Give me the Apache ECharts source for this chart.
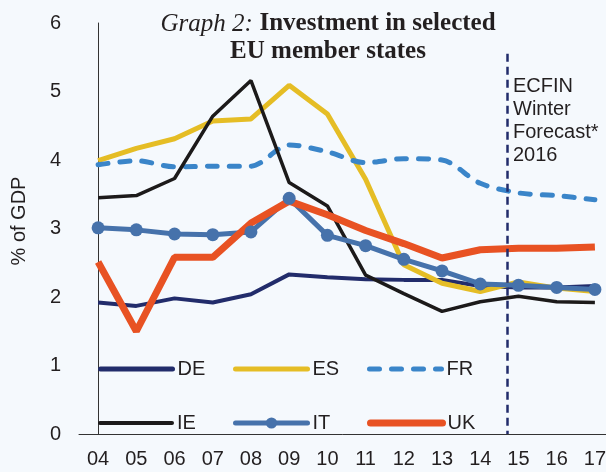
<!DOCTYPE html>
<html>
<head>
<meta charset="utf-8">
<script src="https://cdn.jsdelivr.net/npm/echarts@6/dist/echarts.min.js"></script>
<style>
  html, body { margin: 0; padding: 0; background: #f5f9fd; }
  #chart { width: 606px; height: 472px; }
</style>
</head>
<body>
<div id="chart"></div>
<script>
// years on the x axis
const years = ['04', '05', '06', '07', '08', '09', '10', '11', '12', '13', '14', '15', '16', '17']
// investment, % of GDP
const de = [1.92, 1.87, 1.98, 1.92, 2.04, 2.33, 2.29, 2.26, 2.25, 2.25, 2.16, 2.14, 2.14, 2.16]
const es = [3.99, 4.17, 4.31, 4.57, 4.60, 5.09, 4.67, 3.72, 2.47, 2.20, 2.08, 2.22, 2.13, 2.08]
const fr = [3.93, 3.99, 3.90, 3.91, 3.91, 4.22, 4.12, 3.96, 4.02, 4.00, 3.66, 3.52, 3.48, 3.42]
const ie = [3.45, 3.48, 3.73, 4.64, 5.16, 3.67, 3.33, 2.32, 2.05, 1.79, 1.93, 2.01, 1.93, 1.92]
const it = [3.01, 2.98, 2.92, 2.91, 2.95, 3.44, 2.90, 2.75, 2.55, 2.38, 2.19, 2.17, 2.14, 2.11]
const uk = [2.51, 1.50, 2.58, 2.58, 3.08, 3.40, 3.20, 2.97, 2.78, 2.57, 2.69, 2.71, 2.71, 2.73]
// forecast starts between 14 and 15 (position in category units)
const forecastAt = 10.71
const yTicks = [0, 1, 2, 3, 4, 5, 6]

const sans = 'Liberation Sans'
const serif = 'Liberation Serif'
const txt = '#231f20'

// one legend per item so they sit where the original has them
function leg(name, left, top, width, dot) {
  return {
    data: [name],
    left: left,
    top: top,
    padding: 0,
    itemWidth: 72,
    itemHeight: 14,
    selectedMode: false,
    lineStyle: { width: width, cap: 'round' },
    // only IT keeps its marker in the key
    itemStyle: dot ? {} : { opacity: 0 },
    textStyle: { fontFamily: sans, fontSize: 20, color: txt }
  }
}

const chart = echarts.init(document.getElementById('chart'))

chart.setOption({
  animation: false,
  backgroundColor: '#f5f9fd',
  grid: { left: 79, top: 23, width: 535, height: 411, outerBoundsMode: 'none' },
  xAxis: [
    {
      type: 'category',
      data: years,
      axisLine: { lineStyle: { color: '#333', width: 1 } },
      axisTick: { show: false },
      axisLabel: { fontFamily: sans, fontSize: 20, color: txt, margin: 15 }
    },
    { type: 'value', min: -0.5, max: 13.5, show: false }
  ],
  yAxis: {
    type: 'value',
    min: 0,
    max: 6,
    interval: 1,
    splitLine: { show: false },
    axisLine: { show: true, lineStyle: { color: '#333', width: 1 } },
    axisTick: { show: false },
    axisLabel: {
      fontFamily: sans, fontSize: 20, color: txt, margin: 18,
      formatter: v => yTicks.includes(v) ? String(v) : ''
    }
  },
  legend: [
    leg('DE', 98, 359, 5),
    leg('ES', 233, 359, 5),
    leg('FR', 367, 359, 5),
    leg('IE', 98, 413, 4),
    leg('IT', 233, 413, 5, true),
    leg('UK', 367, 413, 7)
  ],
  graphic: [
    {
      type: 'text',
      x: 328,
      y: 10,
      style: {
        text: '{i|Graph 2:}  {b|Investment in selected}\n{b|EU member states}',
        align: 'center',
        rich: {
          i: { fontFamily: serif, fontStyle: 'italic', fontSize: 25, lineHeight: 28, fill: txt },
          b: { fontFamily: serif, fontWeight: 'bold', fontSize: 25, lineHeight: 28, fill: txt }
        }
      }
    },
    {
      type: 'text',
      left: 513,
      top: 75,
      style: {
        text: 'ECFIN\nWinter\nForecast*\n2016',
        fontFamily: sans,
        fontSize: 20,
        lineHeight: 23,
        fill: txt
      }
    },
    {
      type: 'text',
      x: 19,
      y: 221,
      rotation: Math.PI / 2,
      style: {
        text: '% of GDP',
        fontFamily: sans,
        fontSize: 20,
        fill: txt,
        align: 'center',
        verticalAlign: 'middle'
      }
    }
  ],
  series: [
    {
      name: 'DE', type: 'line', data: de, symbol: 'none',
      lineStyle: { color: '#222c6b', width: 4 }, itemStyle: { color: '#222c6b' }
    },
    {
      name: 'ES', type: 'line', data: es, symbol: 'none',
      lineStyle: { color: '#e5bd25', width: 5 }, itemStyle: { color: '#e5bd25' }
    },
    {
      name: 'FR', type: 'line', data: fr, symbol: 'none', smooth: 0.3,
      lineStyle: { color: '#3a85c9', width: 5, type: [10, 12], cap: 'round' },
      itemStyle: { color: '#3a85c9' }
    },
    {
      name: 'IE', type: 'line', data: ie, symbol: 'none',
      lineStyle: { color: '#1c1a1a', width: 3.5 }, itemStyle: { color: '#1c1a1a' }
    },
    {
      name: 'IT', type: 'line', data: it, symbol: 'circle', symbolSize: 13,
      lineStyle: { color: '#4672ab', width: 5 }, itemStyle: { color: '#4672ab' }
    },
    {
      name: 'UK', type: 'line', data: uk, symbol: 'none',
      lineStyle: { color: '#e85223', width: 7 }, itemStyle: { color: '#e85223' }
    },
    {
      // forecast divider
      type: 'line', xAxisIndex: 1, data: [], silent: true,
      markLine: {
        symbol: 'none',
        silent: true,
        label: { show: false },
        lineStyle: { color: '#222c6b', width: 2.5, type: [8, 5] },
        data: [[{ coord: [forecastAt, 5.55] }, { coord: [forecastAt, 0] }]]
      }
    }
  ]
})
</script>
</body>
</html>
